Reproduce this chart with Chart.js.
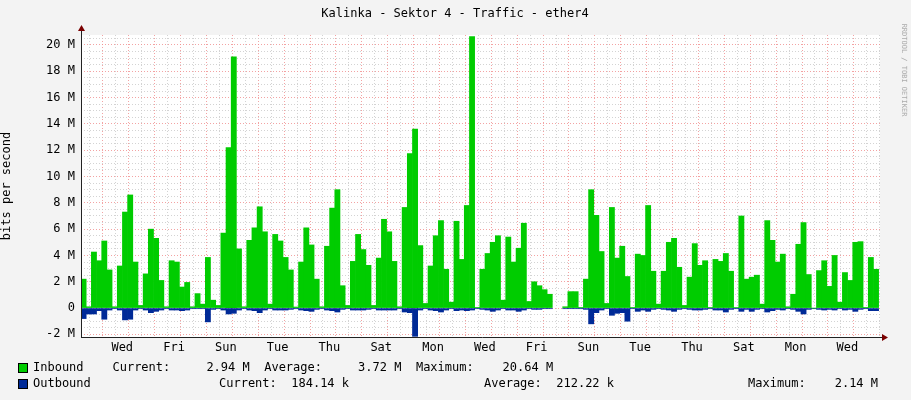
<!DOCTYPE html>
<html><head><meta charset="utf-8">
<script src="https://cdn.jsdelivr.net/npm/chart.js@4"></script>
<style>html,body{margin:0;padding:0;background:#f3f3f3}#w{width:911px;height:400px;position:relative}</style>
</head><body><div id="w"><canvas id="c" width="911" height="400"></canvas></div>
<script>
const dayNames = ["Wed","Fri","Sun","Tue","Thu","Sat","Mon","Wed","Fri","Sun","Tue","Thu","Sat","Mon","Wed"];
const binDays = 0.2, startDay = -0.093;
const inbound1 = [2.2,0.1,4.26,3.6,5.1,2.9,0.1,3.2,7.3,8.6,3.5,0.2,2.6,6.0,5.3,2.1,0.1,3.6,3.5,1.6,1.95,0.1,1.1,0.3,3.85,0.6,0.2,5.7,12.2,19.1,4.5,0.1,5.15,6.1,7.7,5.8,0.3,5.6,5.1,3.85,2.9,0.08,3.5,6.1,4.8,2.2,0.1,4.7,7.6,9.0,1.7,0.2];
const inbound2 = [3.55,5.6,4.45,3.25,0.2,3.8,6.75,5.8,3.55,0.1,7.65,11.75,13.6,4.75,0.35,3.2,5.5,6.65,2.95,0.45,6.6,3.7,7.8,20.64,0.05,2.95,4.15,5.0,5.5,0.6,5.4,3.5,4.55,6.45,0.5,2.0,1.7,1.4,1.05,null,null,0.1,1.25,1.25,0.05,2.2,9.0,7.05,4.3,0.35,7.65];
const inbound3 = [3.8,4.7,2.4,0.05,4.1,4.0,7.8,2.8,0.3,2.8,5.0,5.3,3.1,0.2,2.35,4.9,3.25,3.6,0.05,3.7,3.55,4.15,2.8,0.03,7.0,2.2,2.35,2.5,0.3,6.65,5.15,3.5,4.1,0.1,1.05,4.85,6.5,2.55,0,2.85,3.6,1.65,4.0,0.45,2.7,2.1,5.0,5.05,0.05,3.85,2.95];
const outbound1 = [-0.8,-0.45,-0.45,-0.2,-0.85,-0.15,-0.05,-0.15,-0.9,-0.85,-0.15,-0.05,-0.15,-0.35,-0.25,-0.15,-0.05,-0.15,-0.15,-0.2,-0.15,-0.05,-0.05,-0.05,-1.05,-0.1,-0.05,-0.15,-0.45,-0.4,-0.15,-0.05,-0.15,-0.2,-0.35,-0.15,-0.05,-0.15,-0.15,-0.15,-0.1,-0.05,-0.15,-0.2,-0.25,-0.1,-0.05,-0.15,-0.2,-0.3,-0.1,-0.05];
const outbound2 = [-0.15,-0.15,-0.15,-0.1,-0.05,-0.15,-0.15,-0.15,-0.15,-0.05,-0.3,-0.35,-2.15,-0.15,-0.05,-0.15,-0.2,-0.3,-0.15,-0.05,-0.2,-0.15,-0.2,-0.15,-0.05,-0.1,-0.15,-0.25,-0.15,-0.05,-0.15,-0.15,-0.25,-0.15,-0.05,-0.1,-0.1,-0.05,-0.05,null,null,-0.05,-0.05,-0.05,-0.05,-0.1,-1.2,-0.35,-0.15,-0.05,-0.55];
const outbound3 = [-0.4,-0.35,-1.0,-0.05,-0.25,-0.15,-0.25,-0.1,-0.05,-0.1,-0.15,-0.25,-0.1,-0.05,-0.1,-0.15,-0.15,-0.1,-0.05,-0.15,-0.15,-0.3,-0.1,-0.05,-0.25,-0.1,-0.25,-0.1,-0.05,-0.3,-0.2,-0.1,-0.15,-0.05,-0.1,-0.25,-0.45,-0.1,-0.05,-0.1,-0.15,-0.1,-0.15,-0.05,-0.15,-0.1,-0.25,-0.1,-0.05,-0.2,-0.2];
const inbound = inbound1.concat(inbound2, inbound3);
const outbound = outbound1.concat(outbound2, outbound3);
const toPts = a => a.map((v,i)=>({x:startDay+binDays*(i+0.5), y:v}));
const mono = "'DejaVu Sans Mono', monospace";

const extras = {
  id:'extras',
  afterDraw(ch){
    const c = ch.ctx, a = ch.chartArea;
    c.save();
    c.fillStyle='#000'; c.font="12px "+mono; c.textAlign='center'; c.textBaseline='middle';
    c.fillText("Kalinka - Sektor 4 - Traffic - ether4", 455, 14);
    c.save(); c.translate(904, 70); c.rotate(Math.PI/2);
    c.fillStyle='#aaa'; c.font="7px "+mono; c.fillText("RRDTOOL / TOBI OETIKER",0,0); c.restore();
    // axes
    c.strokeStyle='#222'; c.lineWidth=1;
    c.beginPath(); c.moveTo(a.left+0.5,a.bottom); c.lineTo(a.left+0.5,a.top-6); c.stroke();
    c.beginPath(); c.moveTo(a.left,a.bottom+0.5); c.lineTo(a.right+4,a.bottom+0.5); c.stroke();
    c.fillStyle='#7a0000';
    c.beginPath(); c.moveTo(a.left-3,a.top-4); c.lineTo(a.left+4,a.top-4); c.lineTo(a.left+0.5,a.top-10); c.fill();
    c.beginPath(); c.moveTo(a.right+2,a.bottom-3); c.lineTo(a.right+2,a.bottom+4); c.lineTo(a.right+8,a.bottom+0.5); c.fill();
    // legend
    c.font="12px "+mono; c.textAlign='left'; c.fillStyle='#000';
    c.fillStyle='#00cc00'; c.fillRect(18,363,10,10); c.strokeStyle='#000'; c.strokeRect(18.5,363.5,9,9);
    c.fillStyle='#002a97'; c.fillRect(18,379,10,10); c.strokeRect(18.5,379.5,9,9);
    c.fillStyle='#000';
    c.fillText("Inbound    Current:     2.94 M  Average:     3.72 M  Maximum:    20.64 M", 33, 368);
    c.fillText("Outbound", 33, 384);
    c.fillText("Current:  184.14 k", 219, 384);
    c.fillText("Average:  212.22 k", 484, 384);
    c.fillText("Maximum:    2.14 M", 748, 384);
    c.restore();
  }
};

new Chart(document.getElementById('c'), {
  type:'bar',
  data:{datasets:[
    {label:'Inbound', data:toPts(inbound), backgroundColor:'#00cc00', grouped:false, barPercentage:1, categoryPercentage:1, borderWidth:0, order:1},
    {label:'Outbound', data:toPts(outbound), backgroundColor:'#002a97', grouped:false, barPercentage:1, categoryPercentage:1, borderWidth:0, order:2}
  ]},
  options:{
    responsive:false, animation:false, devicePixelRatio:1,
    layout:{padding:{left:0,top:35,right:31,bottom:43}},
    plugins:{legend:{display:false},tooltip:{enabled:false}},
    scales:{
      x:{type:'linear', min:startDay, max:30.76, offset:false,
        afterBuildTicks(s){ const t=[]; for(let v=0; v<=30.5; v+=0.5) t.push({value:v}); s.ticks=t; },
        afterFit(s){ s.height=20; },
        ticks:{autoSkip:false, maxRotation:0, padding:4, color:'#000', font:{family:mono,size:12},
          callback(v){ const k=Math.floor(v); if(v-k===0.5 && k%2===1) return dayNames[(k-1)/2]; return ''; }},
        grid:{drawTicks:false, color(ctx){ const v=ctx.tick&&ctx.tick.value; return Number.isInteger(v)?'rgba(240,140,140,0.8)':'rgba(200,200,200,0.8)'; }, lineWidth:1},
        border:{display:false, dash:[1,2]}
      },
      y:{min:-2.2, max:20.76,
        afterBuildTicks(s){ const t=[]; for(let v=-2; v<=20.5; v+=0.5) t.push({value:v}); s.ticks=t; },
        afterFit(s){ s.width=81; },
        title:{display:true, text:'bits per second', color:'#000', font:{family:mono,size:12}, padding:0},
        ticks:{autoSkip:false, padding:6, color:'#000', font:{family:mono,size:12},
          callback(v){ if(Math.abs(v%2)>1e-9) return ''; return v===0?'0':v+' M'; }},
        grid:{drawTicks:false, color(ctx){ const v=ctx.tick&&ctx.tick.value; return (Math.abs(v%2)<1e-9)?'rgba(240,140,140,0.8)':'rgba(200,200,200,0.8)'; }},
        border:{display:false, dash:[1,2]}
      }
    }
  },
  plugins:[{id:'bg', beforeDraw(ch){ const c=ch.ctx,a=ch.chartArea; c.save(); c.fillStyle='#f3f3f3'; c.fillRect(0,0,911,400); c.fillStyle='#fff'; c.fillRect(a.left,a.top,a.right-a.left,a.bottom-a.top); c.restore(); }}, extras]
});
</script></body></html>
